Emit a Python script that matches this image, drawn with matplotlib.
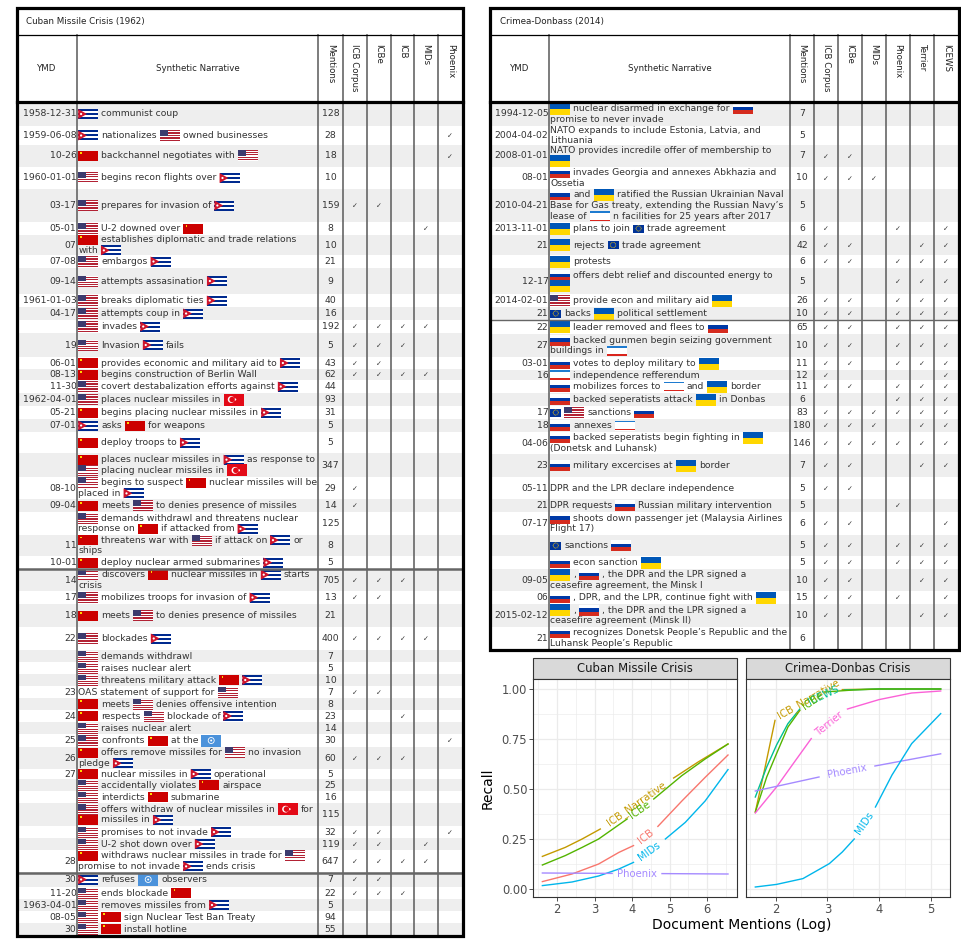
import re
import numpy as np
import matplotlib
matplotlib.use("Agg")
import matplotlib.pyplot as plt
from matplotlib.patches import Rectangle, Polygon, Circle
from matplotlib.font_manager import FontProperties

# ---------------- Cuban Missile Crisis (1962) ----------------
cmc_cols = ["ICB Corpus", "ICBe", "ICB", "MIDs", "Phoenix"]
cmc_dates = ["1958-12-31", "1959-06-08", "10-26", "1960-01-01", "03-17", "05-01", "07", "07-08",
             "09-14", "1961-01-03", "04-17", "", "19", "06-01", "08-13", "11-30", "1962-04-01",
             "05-21", "07-01", "", "", "08-10", "09-04", "", "11", "10-01", "14", "17", "18", "22",
             "", "", "", "23", "", "24", "", "25", "26", "27", "", "", "", "", "", "28", "30",
             "11-20", "1963-04-01", "08-05", "30"]
cmc_events = [
    "{CU} communist coup",
    "{CU} nationalizes {US} owned businesses",
    "{SU} backchannel negotiates with {US}",
    "{US} begins recon flights over {CU}",
    "{US} prepares for invasion of {CU}",
    "{US} U-2 downed over {SU}",
    "{SU} establishes diplomatic and trade relations\nwith {CU}",
    "{US} embargos {CU}",
    "{US} attempts assasination {CU}",
    "{US} breaks diplomatic ties {CU}",
    "{US} attempts coup in {CU}",
    "{US} invades {CU}",
    "{US} Invasion {CU} fails",
    "{SU} provides economic and military aid to {CU}",
    "{SU} begins construction of Berlin Wall",
    "{US} covert destabalization efforts against {CU}",
    "{US} places nuclear missiles in {TR}",
    "{SU} begins placing nuclear missiles in {CU}",
    "{CU} asks {SU} for weapons",
    "{SU} deploy troops to {CU}",
    "{SU} places nuclear missiles in {CU} as response to\n{US} placing nuclear missiles in {TR}",
    "{US} begins to suspect {SU} nuclear missiles will be\nplaced in {CU}",
    "{SU} meets {US} to denies presence of missiles",
    "{US} demands withdrawl and threatens nuclear\nresponse on {SU} if attacked from {CU}",
    "{SU} threatens war with {US} if attack on {CU} or\nships",
    "{SU} deploy nuclear armed submarines {CU}",
    "{US} discovers {SU} nuclear missiles in {CU} starts\ncrisis",
    "{US} mobilizes troops for invasion of {CU}",
    "{SU} meets {US} to denies presence of missiles",
    "{US} blockades {CU}",
    "{US} demands withdrawl",
    "{US} raises nuclear alert",
    "{US} threatens military attack {SU} {CU}",
    "OAS statement of support for {US}",
    "{SU} meets {US} denies offensive intention",
    "{SU} respects {US} blockade of {CU}",
    "{US} raises nuclear alert",
    "{US} confronts {SU} at the {UN}",
    "{SU} offers remove missiles for {US} no invasion\npledge {CU}",
    "{SU} nuclear missiles in {CU} operational",
    "{US} accidentally violates {SU} airspace",
    "{US} interdicts {SU} submarine",
    "{US} offers withdraw of nuclear missiles in {TR} for\n{SU} missiles in {CU}",
    "{US} promises to not invade {CU}",
    "{US} U-2 shot down over {CU}",
    "{SU} withdraws nuclear missiles in trade for {US}\npromise to not invade {CU} ends crisis",
    "{CU} refuses {UN} observers",
    "{US} ends blockade {SU}",
    "{US} removes missiles from {CU}",
    "{US} {SU} sign Nuclear Test Ban Treaty",
    "{US} {SU} install hotline",
]
cmc_mentions = [128, 28, 18, 10, 159, 8, 10, 21, 9, 40, 16, 192, 5, 43, 62, 44, 93, 31, 5, 5,
                347, 29, 14, 125, 8, 5, 705, 13, 21, 400, 7, 5, 10, 7, 8, 23, 14, 30, 60, 5,
                25, 16, 115, 32, 119, 647, 7, 22, 5, 94, 55]
cmc_checks = ["00000", "00001", "00001", "00000", "11000", "00010", "00000", "00000", "00000",
              "00000", "00000", "11110", "11100", "11000", "11110", "00000", "00000", "00000",
              "00000", "00000", "00000", "10000", "10000", "00000", "00000", "00000", "11100",
              "11000", "00000", "11110", "00000", "00000", "00000", "11000", "00000", "00100",
              "00000", "00001", "11100", "00000", "00000", "00000", "00000", "11001", "11010",
              "11110", "11000", "11100", "00000", "00000", "00000"]

# ---------------- Crimea-Donbass (2014) ----------------
cd_cols = ["ICB Corpus", "ICBe", "MIDs", "Phoenix", "Terrier", "ICEWS"]
cd_dates = ["1994-12-05", "2004-04-02", "2008-01-01", "08-01", "2010-04-21", "2013-11-01", "21",
            "", "12-17", "2014-02-01", "21", "22", "27", "03-01", "16", "", "", "17", "18",
            "04-06", "23", "05-11", "21", "07-17", "", "", "09-05", "06", "2015-02-12", "21"]
cd_events = [
    "{UA} nuclear disarmed in exchange for {RU}\npromise to never invade",
    "NATO expands to include Estonia, Latvia, and\nLithuania",
    "NATO provides incredile offer of membership to\n{UA}",
    "{RU} invades Georgia and annexes Abkhazia and\nOssetia",
    "{RU} and {UA} ratified the Russian Ukrainian Naval\nBase for Gas treaty, extending the Russian Navy\u2019s\nlease of {CR} n facilities for 25 years after 2017",
    "{UA} plans to join {EU} trade agreement",
    "{UA} rejects {EU} trade agreement",
    "{UA} protests",
    "{RU} offers debt relief and discounted energy to\n{UA}",
    "{US} provide econ and military aid {UA}",
    "{EU} backs {UA} political settlement",
    "{UA} leader removed and flees to {RU}",
    "{RU} backed gunmen begin seizing government\nbuildings in {CR}",
    "{RU} votes to deploy military to {UA}",
    "{CR} independence refferendum",
    "{RU} mobilizes forces to {CR} and {UA} border",
    "{RU} backed seperatists attack {UA} in Donbas",
    "{EU} {US} sanctions {RU}",
    "{RU} annexes {CR}",
    "{RU} backed seperatists begin fighting in {UA}\n(Donetsk and Luhansk)",
    "{RU} military excercises at {UA} border",
    "DPR and the LPR declare independence",
    "DPR requests {RU} Russian military intervention",
    "{RU} shoots down passenger jet (Malaysia Airlines\nFlight 17)",
    "{EU} sanctions {RU}",
    "{RU} econ sanction {UA}",
    "{UA} , {RU} , the DPR and the LPR signed a\nceasefire agreement, the Minsk I",
    "{RU} , DPR, and the LPR, continue fight with {UA}",
    "{UA} , {RU} , the DPR and the LPR signed a\nceasefire agreement (Minsk II)",
    "{RU} recognizes Donetsk People\u2019s Republic and the\nLuhansk People\u2019s Republic",
]
cd_mentions = [7, 5, 7, 10, 5, 6, 42, 6, 5, 26, 10, 65, 10, 11, 12, 11, 6, 83, 180, 146, 7, 5, 5,
               6, 5, 5, 10, 15, 10, 6]
cd_checks = ["000000", "000000", "110000", "111000", "000000", "100101", "110011", "110111",
             "000111", "110111", "110111", "110111", "110111", "110111", "100001", "110111",
             "000111", "111111", "111011", "111111", "110011", "110000", "000100", "110001",
             "110111", "110111", "110011", "110101", "110011", "000000"]

# ---------------- recall curves (x = log of document mentions) ----------------
cmc_icbn_x = [1.61, 2.22, 2.67, 3.155, 5.11, 5.78, 6.56]
cmc_icbn_y = [0.163, 0.208, 0.25, 0.30, 0.555, 0.637, 0.725]
cmc_icbe_x = [1.61, 2.22, 2.67, 3.11, 3.87, 4.58, 5.33, 5.95, 6.56]
cmc_icbe_y = [0.12, 0.167, 0.208, 0.25, 0.35, 0.45, 0.567, 0.65, 0.725]
cmc_icb_x = [1.61, 2.4, 3.11, 3.65, 4.04, 4.69, 5.33, 5.95, 6.56]
cmc_icb_y = [0.037, 0.075, 0.125, 0.183, 0.217, 0.313, 0.44, 0.558, 0.67]
cmc_mids_x = [1.61, 2.4, 3.11, 3.65, 4.04, 4.89, 5.42, 5.95, 6.56]
cmc_mids_y = [0.017, 0.035, 0.065, 0.1, 0.133, 0.25, 0.333, 0.44, 0.597]
cmc_phx_x = [1.61, 3.47, 4.8, 6.56]
cmc_phx_y = [0.08, 0.078, 0.077, 0.075]

cd_icbn_x = [1.61, 1.8, 1.99, 3.29, 4.0, 5.19]
cd_icbn_y = [0.385, 0.61, 0.843, 0.997, 1.0, 1.0]
cd_icbe_x = [1.61, 1.83, 2.02, 2.24, 2.47, 2.94, 3.5, 4.0, 5.19]
cd_icbe_y = [0.385, 0.56, 0.677, 0.81, 0.893, 0.985, 0.995, 1.0, 1.0]
cd_icews_x = [1.61, 1.83, 2.02, 2.24, 2.47, 3.33, 4.0, 5.19]
cd_icews_y = [0.46, 0.61, 0.72, 0.827, 0.9, 0.995, 1.0, 1.0]
cd_terr_x = [1.61, 2.02, 2.34, 2.69, 3.39, 4.0, 4.63, 5.19]
cd_terr_y = [0.38, 0.51, 0.626, 0.752, 0.90, 0.947, 0.98, 0.99]
cd_phx_x = [1.61, 2.84, 3.92, 5.19]
cd_phx_y = [0.49, 0.56, 0.615, 0.676]
cd_mids_x = [1.61, 2.02, 2.53, 3.04, 3.29, 3.52, 3.93, 4.25, 4.63, 5.19]
cd_mids_y = [0.01, 0.023, 0.052, 0.127, 0.185, 0.25, 0.41, 0.57, 0.727, 0.877]

# ---------------- layout ----------------
W, H = 961, 946
cmc_row_edges = [102, 126, 145, 167, 189, 222, 235, 255, 268, 294, 307, 320, 333, 357, 369, 380,
                 393, 406, 419, 432, 453, 477, 499, 512, 535, 556, 569, 591, 604, 627, 650, 662,
                 674, 686, 698, 710, 722, 734, 747, 769, 779, 791, 803, 826, 838, 850, 872, 887,
                 899, 911, 923, 935]
cd_row_edges = [102, 126, 145, 167, 189, 222, 235, 255, 268, 294, 307, 320, 334, 357, 370, 380,
                393, 406, 419, 432, 454, 477, 499, 512, 535, 556, 569, 591, 604, 627, 649]
cmc_col_edges = [16.5, 77, 318, 343, 367, 391, 414, 438, 462.5]
cd_col_edges = [490, 549, 790, 814, 838, 862, 886, 910, 934, 958.5]

TXT = "#333333"
LINE_H = 10.7

fig = plt.figure(figsize=(W / 100, H / 100), dpi=100)
tab = fig.add_axes([0, 0, 1, 1])
tab.set_xlim(0, W)
tab.set_ylim(H, 0)
tab.axis("off")

rend = fig.canvas.get_renderer()
BODY = FontProperties(family="DejaVu Sans", size=6.7)


def text_w(s, fp=BODY):
    a = rend.get_text_width_height_descent("|" + s + "|", fp, ismath=False)[0]
    b = rend.get_text_width_height_descent("||", fp, ismath=False)[0]
    return a - b


SPACE_W = text_w(" ")


def rect(x, y, w, h, c, z=2):
    tab.add_patch(Rectangle((x, y), w, h, facecolor=c, edgecolor="none", lw=0, zorder=z))


def dot(x, y, r, c):
    tab.add_patch(Circle((x, y), r, facecolor=c, edgecolor="none", zorder=3))


def flag_us(x, yc):
    w, h = 20, 11
    y0 = yc - h / 2
    rect(x, y0, w, h, "#B22234")
    for i in range(1, 13, 2):
        rect(x, y0 + i * h / 13, w, h / 13, "white", 2.5)
    rect(x, y0, 8, h * 7 / 13, "#3C3B6E", 2.6)


def flag_cu(x, yc):
    w, h = 20, 10
    y0 = yc - h / 2
    rect(x, y0, w, h, "#002A8F")
    for i in (1, 3):
        rect(x, y0 + i * h / 5, w, h / 5, "white", 2.5)
    tab.add_patch(Polygon([(x, y0), (x, y0 + h), (x + 8.7, yc)], closed=True,
                          facecolor="#CF142B", edgecolor="none", zorder=2.7))
    dot(x + 2.9, yc, 1.1, "white")


def flag_su(x, yc):
    h = 10
    y0 = yc - h / 2
    rect(x, y0, 20, h, "#CC0000")
    rect(x + 2.2, y0 + 1.4, 1.8, 1.8, "#FFD700", 2.5)


def flag_tr(x, yc):
    h = 12
    rect(x, yc - h / 2, 20, h, "#E30A17")
    dot(x + 7.6, yc, 3.4, "white")
    tab.add_patch(Circle((x + 8.5, yc), 2.75, facecolor="#E30A17", edgecolor="none", zorder=3.1))
    dot(x + 11.6, yc, 1.1, "white")


def flag_un(x, yc):
    h = 12
    rect(x, yc - h / 2, 20, h, "#4B92DB")
    tab.add_patch(Circle((x + 10, yc), 3.0, facecolor="none", edgecolor="white", lw=0.6, zorder=3))
    dot(x + 10, yc, 1.0, "white")


def flag_ua(x, yc):
    h = 12
    rect(x, yc - h / 2, 20, h / 2, "#0057B7")
    rect(x, yc, 20, h / 2, "#FFD700")


def flag_ru(x, yc):
    h = 11
    y0 = yc - h / 2
    for i, c in enumerate(["white", "#0039A6", "#D52B1E"]):
        rect(x, y0 + i * h / 3, 20, h / 3 + 0.05, c)


def flag_eu(x, yc):
    w, h = 11, 8
    rect(x, yc - h / 2, w, h, "#003399")
    for a in np.linspace(0, 2 * np.pi, 12, endpoint=False):
        dot(x + w / 2 + 2.6 * np.cos(a), yc + 2.6 * np.sin(a), 0.45, "#FFCC00")


def flag_cr(x, yc):
    h = 10
    y0 = yc - h / 2
    rect(x, y0, 20, h, "white")
    rect(x, y0, 20, 1.7, "#1E7BD0", 2.5)
    rect(x, y0 + h - 1.7, 20, 1.7, "#DA251D", 2.5)


FLAGS = {"US": (flag_us, 20), "CU": (flag_cu, 20), "SU": (flag_su, 20), "TR": (flag_tr, 20),
         "UN": (flag_un, 20), "UA": (flag_ua, 20), "RU": (flag_ru, 20), "EU": (flag_eu, 11),
         "CR": (flag_cr, 20)}


def draw_line(x, yc, line):
    first = True
    for part in re.split(r"(\{[A-Z]{2}\})", line):
        part = part.strip()
        if not part:
            continue
        if not first:
            x += SPACE_W
        first = False
        if part.startswith("{"):
            fn, fw = FLAGS[part[1:3]]
            fn(x, yc)
            x += fw
        else:
            tab.text(x, yc, part, fontproperties=BODY, color=TXT, ha="left", va="center", zorder=4)
            x += text_w(part)


def draw_table(col_edges, y_top, y_bot, title, cols, dates, events, mentions, checks,
               row_edges, seps):
    x0, x1 = col_edges[0], col_edges[-1]
    title_bot = y_top + 26.5
    head_bot = row_edges[0]
    for i in range(len(dates)):
        if i % 2 == 0:
            rect(x0, row_edges[i], x1 - x0, row_edges[i + 1] - row_edges[i], "#EEEEEE", 1)
    for cx in col_edges[1:-1]:
        tab.plot([cx, cx], [title_bot, y_bot], color="#666666", lw=1.2, zorder=5)
    for yy, lw in seps:
        tab.plot([x0, x1], [yy, yy], color="#666666", lw=lw, zorder=5)
    tab.plot([x0, x1], [title_bot, title_bot], color="black", lw=0.9, zorder=6)
    tab.plot([x0, x1], [head_bot, head_bot], color="black", lw=2.3, zorder=6)
    tab.add_patch(Rectangle((x0, y_top), x1 - x0, y_bot - y_top, fill=False,
                            edgecolor="black", lw=2.3, zorder=7))

    tab.text(x0 + 9.5, (y_top + title_bot) / 2, title, fontsize=6.3, color="#222222",
             ha="left", va="center")
    hy = (title_bot + head_bot) / 2
    tab.text((col_edges[0] + col_edges[1]) / 2, hy, "YMD", fontsize=6.2, color="#222222",
             ha="center", va="center")
    tab.text((col_edges[1] + col_edges[2]) / 2, hy, "Synthetic Narrative", fontsize=6.2,
             color="#222222", ha="center", va="center")
    for j, name in enumerate(["Mentions"] + cols):
        cx = (col_edges[2 + j] + col_edges[3 + j]) / 2
        tab.text(cx, title_bot + 9, name, fontsize=6.2, color="#222222", rotation=270,
                 ha="center", va="top")

    for i in range(len(dates)):
        yc = (row_edges[i] + row_edges[i + 1]) / 2
        tab.text(col_edges[1] - 0.6, yc, dates[i], fontproperties=BODY, color=TXT,
                 ha="right", va="center", zorder=4)
        lines = events[i].split("\n")
        n = len(lines)
        for k, line in enumerate(lines):
            draw_line(col_edges[1] + 1.2, yc + (k - (n - 1) / 2) * LINE_H, line)
        tab.text((col_edges[2] + col_edges[3]) / 2, yc, str(mentions[i]), fontproperties=BODY,
                 color=TXT, ha="center", va="center", zorder=4)
        for j, c in enumerate(checks[i]):
            if c == "1":
                tab.text((col_edges[3 + j] + col_edges[4 + j]) / 2, yc + 0.5, "\u2713",
                         fontsize=5, color=TXT, ha="center", va="center", zorder=4)


draw_table(cmc_col_edges, 8.5, 936, "Cuban Missile Crisis (1962)", cmc_cols, cmc_dates,
           cmc_events, cmc_mentions, cmc_checks, cmc_row_edges, [(569, 1.8), (872.5, 1.8)])
draw_table(cd_col_edges, 8.5, 650, "Crimea-Donbass (2014)", cd_cols, cd_dates,
           cd_events, cd_mentions, cd_checks, cd_row_edges, [(320, 1.0)])

# ---------------- recall chart ----------------
hue = {"ICB": "#F8766D", "ICB_Narrative": "#C49A00", "ICBe": "#53B400", "ICEWS": "#00C094",
       "MIDs": "#00B6EB", "Phoenix": "#A58AFF", "Terrier": "#FB61D7"}

cmc_curves = [("ICB_Narrative", cmc_icbn_x, cmc_icbn_y), ("ICBe", cmc_icbe_x, cmc_icbe_y),
              ("ICB", cmc_icb_x, cmc_icb_y), ("MIDs", cmc_mids_x, cmc_mids_y),
              ("Phoenix", cmc_phx_x, cmc_phx_y)]
cd_curves = [("ICB_Narrative", cd_icbn_x, cd_icbn_y), ("ICEWS", cd_icews_x, cd_icews_y),
             ("ICBe", cd_icbe_x, cd_icbe_y), ("Terrier", cd_terr_x, cd_terr_y),
             ("Phoenix", cd_phx_x, cd_phx_y), ("MIDs", cd_mids_x, cd_mids_y)]
# label gap on each curve, label centre and screen angle
cmc_labels = {"ICB_Narrative": ((3.155, 5.11), 4.11, 0.425, 35),
              "ICBe": ((3.87, 4.58), 4.22, 0.395, 35),
              "ICB": ((4.04, 4.69), 4.37, 0.265, 38),
              "MIDs": ((4.04, 4.89), 4.46, 0.19, 36),
              "Phoenix": ((3.47, 4.8), 4.12, 0.077, 0)}
cd_labels = {"ICB_Narrative": ((1.99, 3.29), 2.63, 0.95, 30),
             "ICEWS": ((2.47, 3.33), 2.92, 0.968, 25),
             "ICBe": ((2.47, 2.94), 2.72, 0.943, 35),
             "Terrier": ((2.69, 3.39), 3.04, 0.826, 39),
             "Phoenix": ((2.84, 3.92), 3.38, 0.588, 11),
             "MIDs": ((3.52, 3.93), 3.72, 0.33, 56)}

panel_bottom = (H - 897) / H
panel_h = 218 / H
axL = fig.add_axes([533 / W, panel_bottom, 204 / W, panel_h])
axR = fig.add_axes([746 / W, panel_bottom, 204 / W, panel_h])


def style_panel(ax, xlim, xmajor, xminor, show_y):
    ax.set_xlim(*xlim)
    ax.set_ylim(-0.04, 1.05)
    ax.set_xticks(xmajor)
    ax.set_xticks(xminor, minor=True)
    ax.set_yticks([0, 0.25, 0.5, 0.75, 1.0])
    ax.set_yticks([0.125, 0.375, 0.625, 0.875], minor=True)
    ax.grid(which="major", color="#EBEBEB", lw=0.9)
    ax.grid(which="minor", color="#EBEBEB", lw=0.45)
    ax.set_axisbelow(True)
    for s in ax.spines.values():
        s.set_color("#333333")
        s.set_linewidth(0.8)
    ax.tick_params(which="minor", length=0)
    ax.tick_params(which="major", length=2.6, width=0.6, color="#333333", labelsize=8.3,
                   labelcolor="#4D4D4D", pad=1.5)
    if show_y:
        ax.set_yticklabels(["0.00", "0.25", "0.50", "0.75", "1.00"])
    else:
        ax.tick_params(axis="y", left=False, labelleft=False)


def draw_curves(ax, curves, labels):
    for name, xs, ys in curves:
        x = np.asarray(xs)
        y = np.asarray(ys)
        gap, lx, ly, ang = labels[name]
        lo = x <= gap[0] + 1e-9
        hi = x >= gap[1] - 1e-9
        ax.plot(x[lo], y[lo], color=hue[name], lw=1.0)
        ax.plot(x[hi], y[hi], color=hue[name], lw=1.0)
    for name, xs, ys in curves:
        gap, lx, ly, ang = labels[name]
        ax.text(lx, ly, name, color=hue[name], fontsize=7.3, rotation=ang,
                rotation_mode="anchor", ha="center", va="center", zorder=5)


style_panel(axL, (1.36, 6.80), [2, 3, 4, 5, 6], [1.5, 2.5, 3.5, 4.5, 5.5, 6.5], True)
style_panel(axR, (1.43, 5.37), [2, 3, 4, 5], [1.5, 2.5, 3.5, 4.5], False)
draw_curves(axL, cmc_curves, cmc_labels)
draw_curves(axR, cd_curves, cd_labels)

for x0, name in [(533, "Cuban Missile Crisis"), (746, "Crimea-Donbas Crisis")]:
    tab.add_patch(Rectangle((x0, 658), 204, 21, facecolor="#D9D9D9", edgecolor="#333333",
                            lw=0.8))
    tab.text(x0 + 102, 668.5, name, fontsize=8.4, color="#1A1A1A", ha="center", va="center")

tab.text(488, 788, "Recall", fontsize=10, rotation=90, ha="center", va="center")
tab.text(741.5, 925, "Document Mentions (Log)", fontsize=10, ha="center", va="center")

fig.savefig("out.png", dpi=100)
